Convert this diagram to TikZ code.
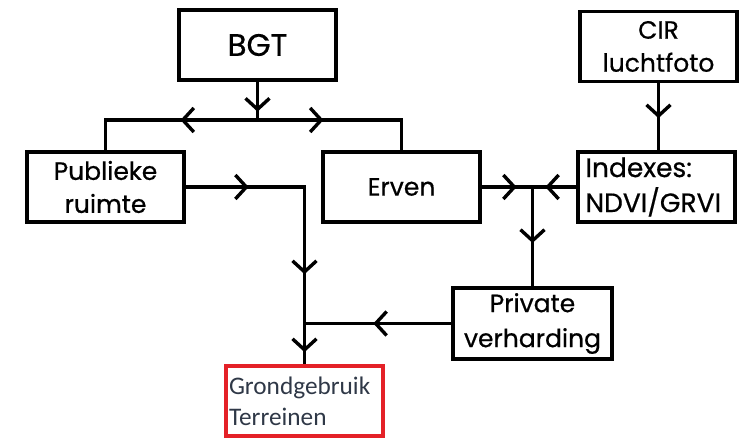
\documentclass[tikz,border=0pt]{standalone}
\usepackage{fontspec}
\setmainfont{Poppins}[FakeBold=0.6]
\newfontfamily\calib{Carlito}
\usetikzlibrary{arrows.meta,decorations.markings}
\definecolor{gtext}{HTML}{2F3847}
\definecolor{gred}{HTML}{E42127}
\tikzset{
  box/.style={draw, line width=3.3pt, minimum width=157pt, minimum height=70pt,
    align=center, inner sep=2pt, font=\fontsize{25}{33}\selectfont},
  conn/.style={line width=3.4pt},
  tipat/.style={postaction={decorate, decoration={markings,
    mark=at position #1 with {\arrow{Straight Barb[length=11pt,width=24pt,line width=3.4pt]}}}}},
}
\begin{document}
\begin{tikzpicture}[x=1pt,y=-1pt]
\useasboundingbox (0,0) rectangle (740,438);
\node[box, font=\fontsize{31}{33}\selectfont] (bgt) at (257.5,45) {BGT};
\node[box] (cir) at (658.5,46.5) {CIR\\luchtfoto};
\node[box] (pub) at (105.5,187) {Publieke\\ruimte};
\node[box] (erven) at (401.5,187) {Erven};
\node[box, align=left, text width=142pt, font=\fontsize{26.5}{35}\selectfont] (idx) at (656.5,187) {Indexes:\\NDVI/GRVI};
\node[box, minimum width=159pt, minimum height=71pt, font=\fontsize{25}{35}\selectfont] (priv) at (532.5,323.5) {Private\\verharding};
\node[box, draw=gred, text=gtext, font=\calib\fontsize{25.3}{31}\selectfont, align=left, text width=151pt] (grond) at (304.5,401) {Grondgebruik\\Terreinen};
\coordinate (j1) at (bgt.south |- 0,120);
\coordinate (j3) at (priv.north |- erven.east);
\coordinate (j4) at (grond.north |- priv.west);
\draw[conn, tipat=30pt] (bgt.south) -- (j1);
\draw[conn, tipat=77pt] (j1) -| (pub.north);
\draw[conn, tipat=66pt] (j1) -| (erven.north);
\draw[conn, tipat=63pt, tipat=206pt, tipat=284pt] (pub.east) -| (grond.north);
\draw[conn, tipat=78pt] (priv.west) -- (j4);
\draw[conn, tipat=35pt] (erven.east) -- (j3);
\draw[conn, tipat=31pt] (idx.west) -- (j3);
\draw[conn, tipat=56pt] (j3) -- (priv.north);
\draw[conn, tipat=35pt] (cir.south) -- (cir.south |- idx.north);
\end{tikzpicture}
\end{document}
